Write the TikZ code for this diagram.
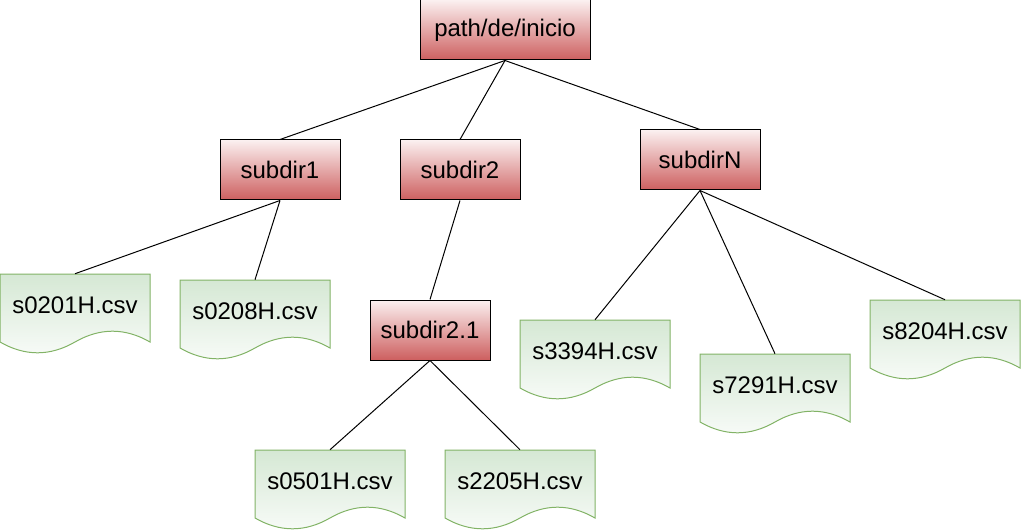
\documentclass[tikz,border=0pt]{standalone}
\usepackage{fontspec}
\setmainfont{Liberation Sans}
\definecolor{dirtop}{HTML}{FBF0F0}
\definecolor{dirbottom}{HTML}{CD5F5F}
\definecolor{doctop}{HTML}{D5E8D4}
\definecolor{docbottom}{HTML}{F8FBF8}
\definecolor{docline}{HTML}{82B366}
\tikzset{
	dirbox/.style = {draw=black, line width=0.75pt, top color=dirtop, bottom color=dirbottom,
		minimum width=90pt, minimum height=45pt, inner sep=0pt, font=\fontsize{18}{21}\selectfont},
	filetext/.style = {minimum width=112.5pt, minimum height=46.5pt, inner sep=0pt,
		font=\fontsize{18}{21}\selectfont},
	link/.style = {draw=black, line width=0.75pt},
	docpage/.pic = {
		\shade[draw=docline, line width=0.75pt, top color=doctop, bottom color=docbottom]
			(-75,-31) -- (75,-31) -- (75,37)
			.. controls (50,22.6) and (25,22.6) .. (0,37)
			.. controls (-25,51.4) and (-50,51.4) .. (-75,37) -- cycle;
	}
}
\begin{document}
\begin{tikzpicture}[x=0.75pt, y=-0.75pt]
	\useasboundingbox (0,0) rectangle (1021,531);
	% directories
	\node[dirbox, minimum width=127.5pt] (root) at (505,30) {path/de/inicio};
	\node[dirbox] (sub1) at (280,170) {subdir1};
	\node[dirbox] (sub2) at (460,170) {subdir2};
	\node[dirbox] (subN) at (700,160) {subdirN};
	\node[dirbox] (sub21) at (430,330) {subdir2.1};
	% files
	\path (75,305) pic{docpage} node[filetext] (f0201) {s0201H.csv};
	\path (255,311) pic{docpage} node[filetext] (f0208) {s0208H.csv};
	\path (595,351) pic{docpage} node[filetext] (f3394) {s3394H.csv};
	\path (775,385) pic{docpage} node[filetext] (f7291) {s7291H.csv};
	\path (945,331) pic{docpage} node[filetext] (f8204) {s8204H.csv};
	\path (330,481) pic{docpage} node[filetext] (f0501) {s0501H.csv};
	\path (520,481) pic{docpage} node[filetext] (f2205) {s2205H.csv};
	% links
	\draw[link] (root.south) -- (sub1.north);
	\draw[link] (root.south) -- (sub2.north);
	\draw[link] (root.south) -- (subN.north);
	\draw[link] (sub1.south) -- (f0201.north);
	\draw[link] (sub1.south) -- (f0208.north);
	\draw[link] (sub2.south) -- (sub21.north);
	\draw[link] (sub21.south) -- (f0501.north);
	\draw[link] (sub21.south) -- (f2205.north);
	\draw[link] (subN.south) -- (f3394.north);
	\draw[link] (subN.south) -- (f7291.north);
	\draw[link] (subN.south) -- (f8204.north);
\end{tikzpicture}
\end{document}
